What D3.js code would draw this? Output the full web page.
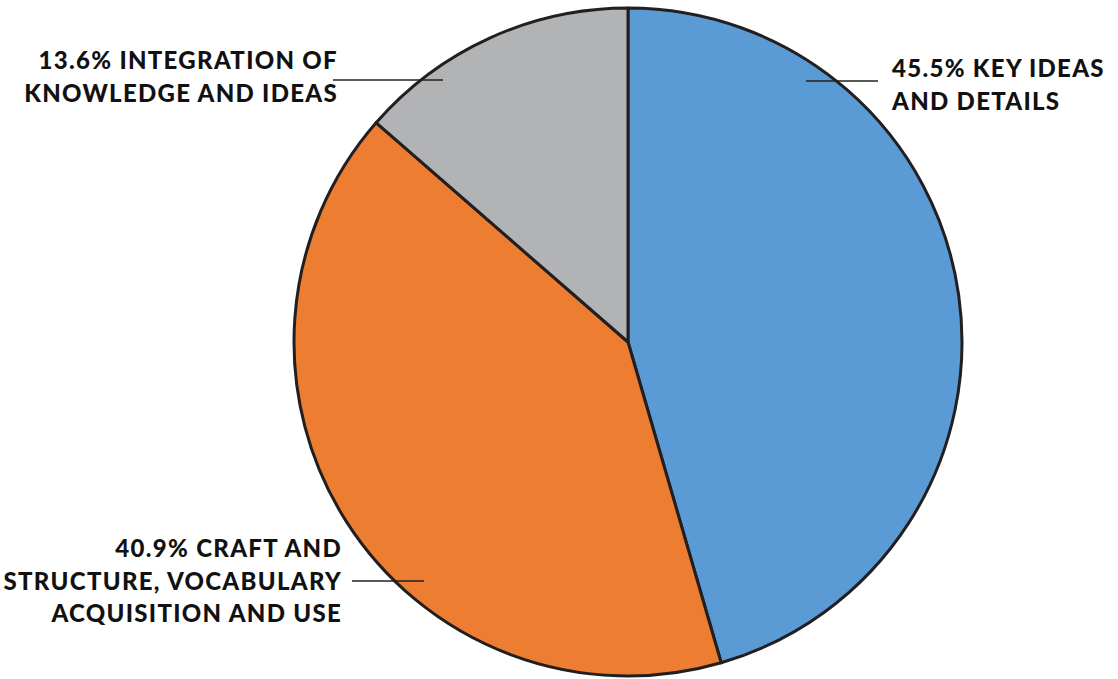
<!DOCTYPE html>
<html><head><meta charset="utf-8">
<script src="https://cdn.jsdelivr.net/npm/d3@7"></script>
<style>body{margin:0;background:#fff}svg{display:block}</style>
</head><body>
<svg id="c" width="1118" height="679"></svg>
<script>
const categories = ["KEY IDEAS AND DETAILS", "CRAFT AND STRUCTURE, VOCABULARY ACQUISITION AND USE", "INTEGRATION OF KNOWLEDGE AND IDEAS"];
const values = [45.5, 40.9, 13.6];
const colors = ["#5b9bd5", "#ed7d31", "#b2b3b5"];
const labelLines = [
  ["45.5% KEY IDEAS", "AND DETAILS"],
  ["40.9% CRAFT AND", "STRUCTURE, VOCABULARY", "ACQUISITION AND USE"],
  ["13.6% INTEGRATION OF", "KNOWLEDGE AND IDEAS"]
];
// layout only
const layout = [
  {x: 892, y: 77, anchor: "start", lx1: 806, lx2: 878, ly: 81},
  {x: 342, y: 557, anchor: "end", lx1: 352, lx2: 424, ly: 581},
  {x: 338, y: 69, anchor: "end", lx1: 333, lx2: 443, ly: 80}
];
const svg = d3.select("#c");
const cx = 628, cy = 342, r = 334;
const pie = d3.pie().sort(null).value(d => d)(values);
const arc = d3.arc().innerRadius(0).outerRadius(r);
const g = svg.append("g").attr("transform", `translate(${cx},${cy})`);
g.selectAll("path").data(pie).join("path")
  .attr("d", arc)
  .attr("fill", (d,i) => colors[i])
  .attr("stroke", "#231f20").attr("stroke-width", 3).attr("stroke-linejoin", "round");
layout.forEach((L, i) => {
  svg.append("line").attr("x1", L.lx1).attr("x2", L.lx2).attr("y1", L.ly).attr("y2", L.ly)
    .attr("stroke", "#231f20").attr("stroke-width", 1.3);
  const t = svg.append("text").attr("text-anchor", L.anchor)
    .attr("font-family", "Lato, 'Open Sans', sans-serif").attr("font-weight", 900)
    .attr("font-size", 24).attr("letter-spacing", 1.3).attr("fill", "#111");
  labelLines[i].forEach((s, j) => {
    t.append("tspan").attr("x", L.x).attr("y", L.y + j * 32.5).text(s);
  });
});
</script>
</body></html>
